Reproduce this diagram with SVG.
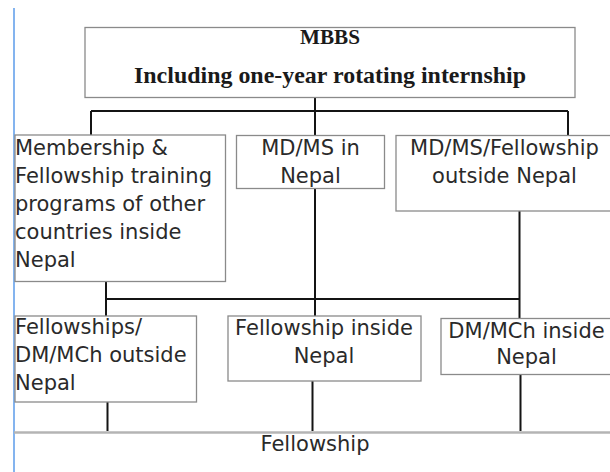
<svg xmlns="http://www.w3.org/2000/svg" width="610" height="472" viewBox="0 0 610 472">
<style>
.box{fill:#fff;stroke:#8a8a8a;stroke-width:1.3}
.t{font-family:"DejaVu Sans",sans-serif;font-size:21px;fill:#2a2a2a}
.m{text-anchor:middle}
.s{font-family:"Liberation Serif",serif;font-weight:bold;fill:#1a1a1a;text-anchor:middle}
.c{fill:none;stroke:#141414;stroke-width:2}
</style>
<rect width="610" height="472" fill="#fff"/>
<line x1="14" y1="8" x2="14" y2="472" stroke="#5b9bea" stroke-width="1.5"/>
<g id="connectors">
<path class="c" d="M315,98 V135 M91,111 H568 M91,111 V135 M568,111 V136"/>
<path class="c" d="M106,281.5 V316 M106,299 H519.5 M315,188 V316 M519.5,211 V318.5"/>
<path class="c" d="M107.5,402 V431 M312.5,381 V431 M520.5,374.5 V431"/>
</g>
<g id="mbbs">
<rect class="box" x="85" y="27.5" width="490" height="70"/>
<text class="s" x="330" y="44" font-size="20" textLength="60" lengthAdjust="spacingAndGlyphs">MBBS</text>
<text class="s" x="330" y="82.5" font-size="23" textLength="392" lengthAdjust="spacingAndGlyphs">Including one-year rotating internship</text>
</g>
<g id="membership">
<rect class="box" x="15" y="135" width="210.5" height="146.5"/>
<text class="t" x="15"><tspan x="15" y="155">Membership &amp;</tspan><tspan x="15" y="183">Fellowship training</tspan><tspan x="15" y="211">programs of other</tspan><tspan x="15" y="239">countries inside</tspan><tspan x="15" y="267">Nepal</tspan></text>
</g>
<g id="mdms-nepal">
<rect class="box" x="236.5" y="135.5" width="148" height="53"/>
<text class="t m"><tspan x="310.5" y="155">MD/MS in</tspan><tspan x="310.5" y="183">Nepal</tspan></text>
</g>
<g id="mdms-outside">
<rect class="box" x="396" y="135.5" width="220" height="75.5"/>
<text class="t m"><tspan x="504.5" y="155">MD/MS/Fellowship</tspan><tspan x="504.5" y="183">outside Nepal</tspan></text>
</g>
<g id="fellowships-outside">
<rect class="box" x="15" y="316" width="181.5" height="86"/>
<text class="t"><tspan x="15" y="334">Fellowships/</tspan><tspan x="15" y="362">DM/MCh outside</tspan><tspan x="15" y="390">Nepal</tspan></text>
</g>
<g id="fellowship-inside">
<rect class="box" x="228" y="316" width="193" height="65"/>
<text class="t m"><tspan x="324" y="335">Fellowship inside</tspan><tspan x="324" y="363">Nepal</tspan></text>
</g>
<g id="dmmch-inside">
<rect class="box" x="441" y="318.5" width="180" height="56"/>
<text class="t m"><tspan x="526.5" y="337.5">DM/MCh inside</tspan><tspan x="526.5" y="363.5">Nepal</tspan></text>
</g>
<g id="fellowship">
<line x1="14" y1="432.5" x2="610" y2="432.5" stroke="#b4b4b4" stroke-width="2.5"/>
<text class="t m" x="315" y="451">Fellowship</text>
</g>
</svg>
